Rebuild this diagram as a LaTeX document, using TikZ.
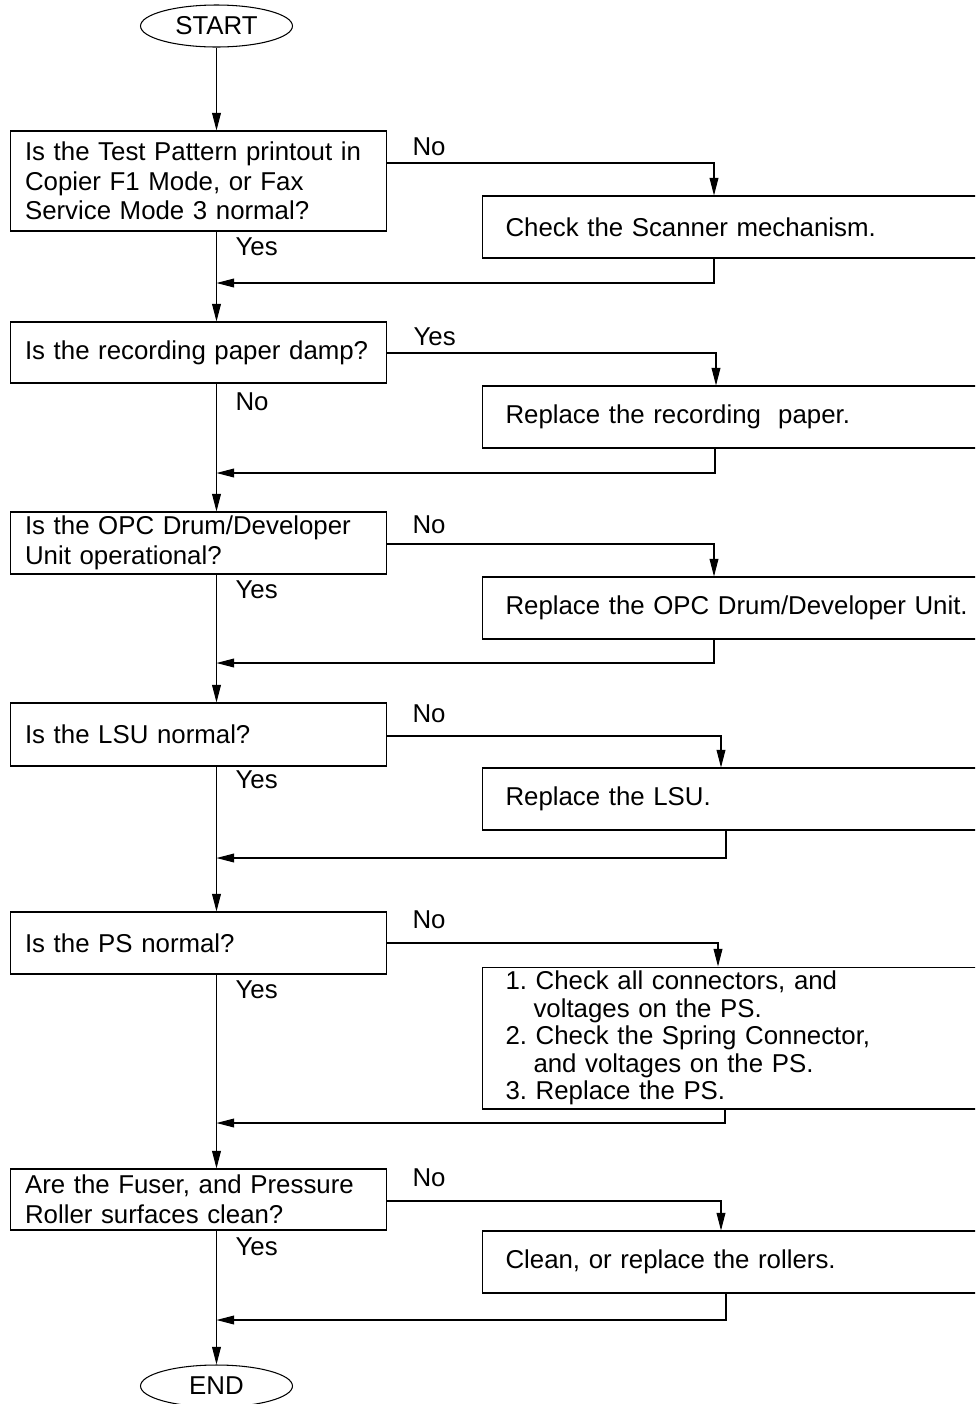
\documentclass[tikz,border=0pt]{standalone}
\usepackage{fontspec}
\setmainfont{Liberation Sans}
\usetikzlibrary{positioning, arrows.meta, shapes.geometric}

\begin{document}
\begin{tikzpicture}[
  x=0.02cm, y=-0.02cm, line width=0.6pt,
  every node/.style={font=\fontsize{14.7}{16.8}\selectfont},
  term/.style={draw, ellipse, minimum width=3.04cm, minimum height=0.84cm, inner sep=0pt},
  qbox/.style={draw, align=left, text width=6.94cm, inner xsep=0.3cm, inner ysep=0pt},
  actbox/.style={draw, anchor=west, align=left, text width=10cm, inner xsep=0.46cm, inner ysep=0pt, minimum height=1.24cm},
  lbl/.style={anchor=west, inner sep=0pt},
  arr/.style={-{Triangle[length=10pt, width=5pt]}}
]
\useasboundingbox (0,0) rectangle (975,1404);
\clip (0,0) rectangle (975,1404);

\node[term] (start) at (216.5,26) {START};
\node[term] (end) at (216.5,1386) {END};

% questions down the left
\node[qbox, minimum height=2cm] (q1) at (198.5,181) {Is the Test Pattern printout in\\Copier F1 Mode, or Fax\\Service Mode 3 normal?};
\node[qbox, minimum height=1.22cm] (q2) at (198.5,352.5) {Is the recording paper damp?};
\node[qbox, minimum height=1.24cm] (q3) at (198.5,543) {Is the OPC Drum/Developer\\Unit operational?};
\node[qbox, minimum height=1.26cm] (q4) at (198.5,734.5) {Is the LSU normal?};
\node[qbox, minimum height=1.24cm] (q5) at (198.5,943) {Is the PS normal?};
\node[qbox, minimum height=1.22cm] (q6) at (198.5,1199.5) {Are the Fuser, and Pressure\\Roller surfaces clean?};

% actions on the right (cut off by the page edge)
\node[actbox] (r1) at (482,227) {Check the Scanner mechanism.};
\node[actbox] (r2) at (482,417) {Replace the recording\ \ paper.};
\node[actbox] (r3) at (482,608) {Replace the OPC Drum/Developer Unit.};
\node[actbox] (r4) at (482,799) {Replace the LSU.};
\node[actbox, minimum height=2.84cm, font=\fontsize{14.7}{15.6}\selectfont] (r5) at (482,1038) {1.\ Check all connectors, and\\\hspace*{0.56cm}voltages on the PS.\\2.\ Check the Spring Connector,\\\hspace*{0.56cm}and voltages on the PS.\\3.\ Replace the PS.};
\node[actbox] (r6) at (482,1262) {Clean, or replace the rollers.};

% branch labels
\node[lbl] (n1) at (412,147) {No};
\node[lbl] (y1) at (235,247) {Yes};
\node[lbl] (y2) at (413,337) {Yes};
\node[lbl] (n2) at (235,402) {No};
\node[lbl] (n3) at (412,525) {No};
\node[lbl] (y3) at (235,590) {Yes};
\node[lbl] (n4) at (412,714) {No};
\node[lbl] (y4) at (235,780) {Yes};
\node[lbl] (n5) at (412,920) {No};
\node[lbl] (y5) at (235,990) {Yes};
\node[lbl] (n6) at (412,1178) {No};
\node[lbl] (y6) at (235,1247) {Yes};

% bend and merge points
\coordinate (a1) at (714,163);  \coordinate (b1) at (714,283);
\coordinate (a2) at (716,353);  \coordinate (b2) at (715,473);
\coordinate (a3) at (714,544);  \coordinate (b3) at (714,663);
\coordinate (a4) at (721,736);  \coordinate (b4) at (726,858);
\coordinate (a5) at (718,943);  \coordinate (b5) at (725,1123);
\coordinate (a6) at (721,1201); \coordinate (b6) at (726,1320);

% main line
\draw[arr] (start) -- (start |- q1.north);
\foreach \u/\v in {q1/q2, q2/q3, q3/q4, q4/q5, q5/q6, q6/end}
  \draw[arr] (\u.south -| start) -- (\v.north -| start);

% side branches and returns
\foreach \i in {1,...,6}{
  \draw[arr] (q\i.east |- a\i) -| (r\i.north -| a\i);
  \draw[arr] (r\i.south -| b\i) |- (start |- b\i);
}
\end{tikzpicture}
\end{document}
